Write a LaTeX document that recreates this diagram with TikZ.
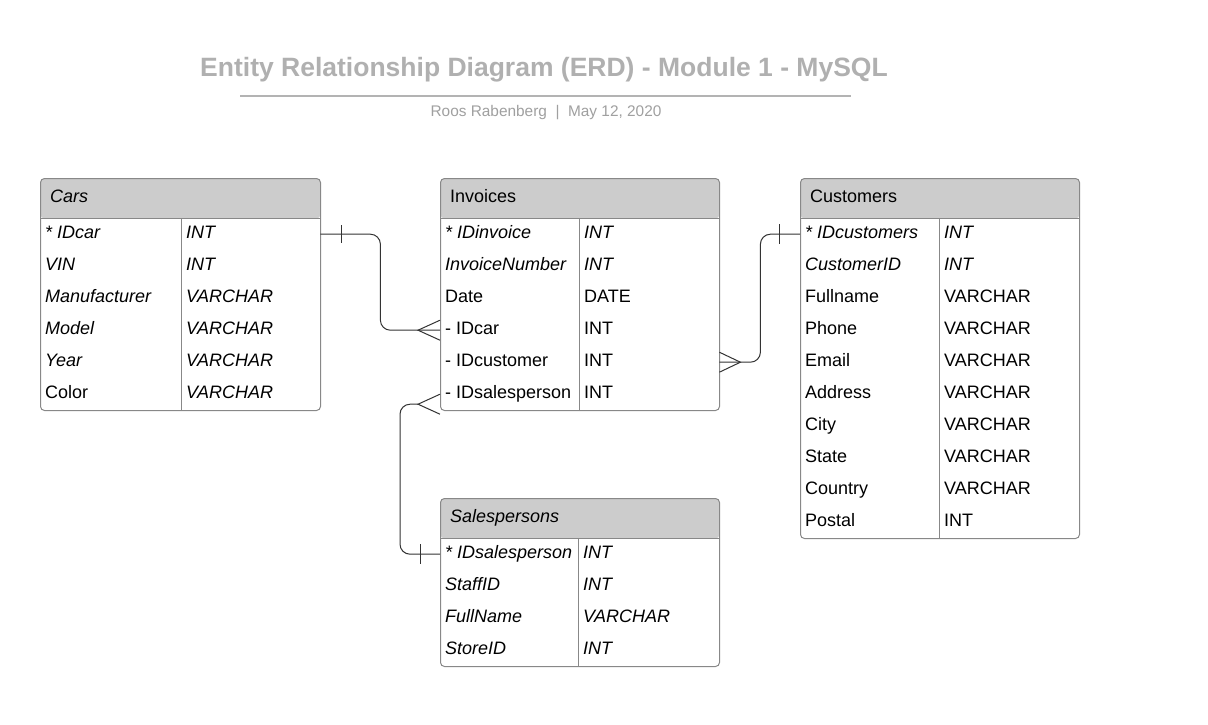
\documentclass[tikz,border=0pt]{standalone}
\usepackage{fontspec}
\setmainfont{Liberation Sans}
\definecolor{bordercol}{HTML}{888888}
\definecolor{hdrcol}{HTML}{CCCCCC}
\definecolor{titlecol}{HTML}{B0B0B0}
\definecolor{subcol}{HTML}{A0A0A0}
\definecolor{rulecol}{HTML}{B3B3B3}
\definecolor{conncol}{HTML}{333333}
\tikzset{
  tbl/.style={draw=bordercol, line width=1pt, rounded corners=4pt, fill=white,
    inner sep=0pt, anchor=north west,
    path picture={\fill[hdrcol] (path picture bounding box.north west) rectangle ([yshift=-40pt]path picture bounding box.north east);}},
  cell/.style={anchor=base west, inner sep=0pt, font=\fontsize{18}{21}\selectfont, text=black},
  rowbox/.style={anchor=north west, inner sep=0pt, minimum height=32pt},
  sep/.style={draw=bordercol, line width=1pt},
  conn/.style={draw=conncol, line width=1pt},
}
% name, x, y, width, height, divider x, header, rows
\newcommand{\erdtab}[8]{%
  \node[tbl, minimum width=#4pt, minimum height=#5pt] (#1) at (#2,#3) {};
  \draw[sep] (#2,#3+40) -- (#2+#4,#3+40);
  \draw[sep] (#6,#3+40) -- (#6,#3+#5);
  \node[cell] (#1-h) at (#2+10,#3+24) {#7};
  \foreach \a/\b [count=\i] in {#8} {
    \node[rowbox, minimum width=#4pt] (#1-r\i) at (#2,#3+8+32*\i) {};
    \node[cell] (#1-n\i) at (#2+5,#3+28+32*\i) {\a};
    \node[cell] (#1-t\i) at (#6+5,#3+28+32*\i) {\b};
  }
}
\begin{document}
\begin{tikzpicture}[x=1pt,y=-1pt]
\useasboundingbox[fill=white] (0,0) rectangle (1208,724);

% title block
\node[anchor=base, inner sep=0pt, font=\fontsize{26.5}{30}\selectfont\bfseries, text=titlecol] (title) at (544,76) {Entity Relationship Diagram (ERD) - Module 1 - MySQL};
\coordinate (ruleA) at (240,96);
\coordinate (ruleB) at (851,96);
\draw[rulecol, line width=2pt] (ruleA) -- (ruleB);
\node[anchor=base, inner sep=0pt, font=\fontsize{15.4}{18}\selectfont, text=subcol] (sub) at (546,116) {Roos Rabenberg\ \ |\ \ May 12, 2020};

% tables
\erdtab{cars}{40}{178}{280}{232}{181}{\textit{Cars}}{%
  {\textit{* IDcar}}/{\textit{INT}},
  {\textit{VIN}}/{\textit{INT}},
  {\textit{Manufacturer}}/{\textit{VARCHAR}},
  {\textit{Model}}/{\textit{VARCHAR}},
  {\textit{Year}}/{\textit{VARCHAR}},
  {Color}/{\textit{VARCHAR}}}

\erdtab{inv}{440}{178}{279}{232}{579}{Invoices}{%
  {\textit{* IDinvoice}}/{\textit{INT}},
  {\textit{InvoiceNumber}}/{\textit{INT}},
  {Date}/{DATE},
  {- IDcar}/{INT},
  {- IDcustomer}/{INT},
  {- IDsalesperson}/{INT}}

\erdtab{cust}{800}{178}{279}{360}{939}{Customers}{%
  {\textit{* IDcustomers}}/{\textit{INT}},
  {\textit{CustomerID}}/{\textit{INT}},
  {Fullname}/{VARCHAR},
  {Phone}/{VARCHAR},
  {Email}/{VARCHAR},
  {Address}/{VARCHAR},
  {City}/{VARCHAR},
  {State}/{VARCHAR},
  {Country}/{VARCHAR},
  {Postal}/{INT}}

\erdtab{sal}{440}{498}{279}{168}{578}{\textit{Salespersons}}{%
  {\textit{* IDsalesperson}}/{\textit{INT}},
  {\textit{StaffID}}/{\textit{INT}},
  {\textit{FullName}}/{\textit{VARCHAR}},
  {\textit{StoreID}}/{\textit{INT}}}

% connector 1: Cars.IDcar (one) -> Invoices.IDcar (many)
\draw[conn, rounded corners=10pt] (cars-r1.east) -- ++(60,0) |- (inv-r4.west);
\draw[conn] ([xshift=21pt,yshift=9pt]cars-r1.east) -- ([xshift=21pt,yshift=-9pt]cars-r1.east);
\coordinate (crow1) at ([xshift=-22pt]inv-r4.west);
\draw[conn] ([yshift=10pt]inv-r4.west) -- (crow1) -- ([yshift=-10pt]inv-r4.west);

% connector 2: Invoices.IDcustomer (many) -> Customers.IDcustomers (one)
\draw[conn, rounded corners=10pt] (inv-r5.east) -- ++(41,0) |- (cust-r1.west);
\coordinate (crow2) at ([xshift=21pt]inv-r5.east);
\draw[conn] ([yshift=10pt]inv-r5.east) -- (crow2) -- ([yshift=-10pt]inv-r5.east);
\draw[conn] ([xshift=-21pt,yshift=10pt]cust-r1.west) -- ([xshift=-21pt,yshift=-10pt]cust-r1.west);

% connector 3: Invoices.IDsalesperson (many) -> Salespersons.IDsalesperson (one)
\coordinate (crow3) at ([xshift=-22pt,yshift=-10pt]inv-r6.west);
\draw[conn, rounded corners=10pt] (crow3) -- ++(-18,0) |- (sal-r1.west);
\draw[conn] (inv-r6.west) -- (crow3) -- ([yshift=-20pt]inv-r6.west);
\draw[conn] ([xshift=-20pt,yshift=10pt]sal-r1.west) -- ([xshift=-20pt,yshift=-10pt]sal-r1.west);
\end{tikzpicture}
\end{document}
